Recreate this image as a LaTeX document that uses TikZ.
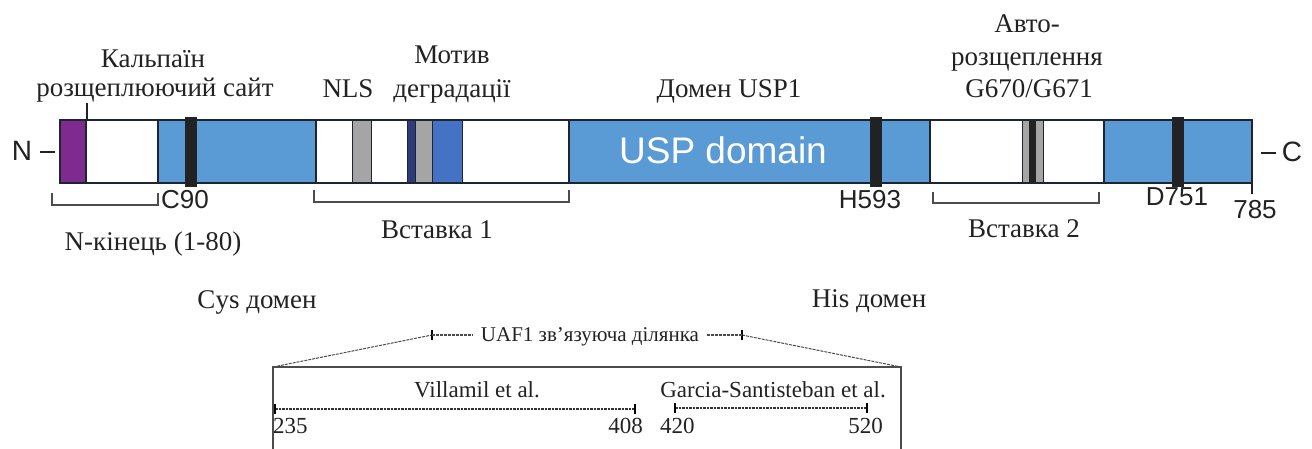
\documentclass[tikz,border=0pt]{standalone}
\usepackage{fontspec}
\setmainfont{Liberation Serif}
\setsansfont{Liberation Sans}
\definecolor{uspblue}{HTML}{5B9BD5}
\definecolor{dkblue}{HTML}{4472C4}
\definecolor{navyb}{HTML}{2E3B7A}
\definecolor{purp}{HTML}{7E2A8E}
\definecolor{bandc}{HTML}{222222}
\definecolor{grayb}{HTML}{A5A5A5}
\definecolor{outl}{HTML}{1E2530}
\definecolor{txt}{HTML}{222222}
\begin{document}
\begin{tikzpicture}[x=1pt,y=-1pt,
  seg/.style={draw=outl,line width=1.4pt},
  band/.style={draw=outl,fill=bandc,line width=1pt},
  lab/.style={font=\fontsize{27}{30}\selectfont,text=txt,inner sep=0pt,anchor=base},
  small/.style={font=\fontsize{23}{26}\selectfont,text=txt,inner sep=0pt,anchor=base},
  sans/.style={font=\sffamily\fontsize{26}{30}\selectfont,text=txt,inner sep=0pt,anchor=base},
  brk/.style={draw=black!70,line width=1.3pt},
  rng/.style={draw=black!80,line width=1.6pt,dash pattern=on 2.5pt off 1pt},
  tickm/.style={draw=black,line width=2.2pt},
  slant/.style={draw=black!70,line width=1pt,dash pattern=on 3pt off 1pt}]
\useasboundingbox (0,0) rectangle (1312,448);
% ---- bar segments
\fill[purp] (60,120) rectangle (86,183);
\fill[white] (86,120) rectangle (158,183);
\fill[uspblue] (158,120) rectangle (316,183);
\fill[white] (316,120) rectangle (569,183);
\fill[uspblue] (569,120) rectangle (930,183);
\fill[white] (930,120) rectangle (1104,183);
\fill[uspblue] (1104,120) rectangle (1252,183);
% insert 1 motifs
\fill[grayb] (352,120) rectangle (371,183);
\fill[navyb] (407,120) rectangle (415,183);
\fill[grayb] (415,120) rectangle (432,183);
\fill[dkblue] (432,120) rectangle (462,183);
\draw[seg,line width=1pt] (352,120) -- (352,183) (371,120) -- (371,183)
  (407,120) -- (407,183) (415,120) -- (415,183) (432,120) -- (432,183) (462,120) -- (462,183);
% insert 2 motifs
\fill[grayb] (1022,120) rectangle (1043,183);
\fill[bandc] (1029,120) rectangle (1036,183);
\draw[seg,line width=0.8pt] (1022,120) -- (1022,183) (1043,120) -- (1043,183);
% outlines
\draw[seg] (60,120) rectangle (1252,183);
\draw[seg] (86,120) -- (86,183) (158,120) -- (158,183) (316,120) -- (316,183)
  (569,120) -- (569,183) (930,120) -- (930,183) (1104,120) -- (1104,183);
% catalytic residues
\draw[band] (185,117) rectangle (196,186);
\draw[band] (870,117) rectangle (881,186);
\draw[band] (1172,117) rectangle (1183,186);
% ---- ends
\node[sans,font=\sffamily\fontsize{28}{30}\selectfont,anchor=center] (nterm) at (22,151) {N};
\node[sans,font=\sffamily\fontsize{28}{30}\selectfont,anchor=center] (cterm) at (1292,152) {C};
\draw[line width=1.6pt,txt] (nterm.east) ++(8,1) -- ++(15,0);
\draw[line width=1.6pt,txt] (cterm.west) ++(-6,1) -- ++(-15,0);
% calpain tick
\coordinate (calp) at (87,103);
\draw[line width=1.5pt,txt] (calp) -- (87,120);
% 785 tick
\draw[line width=1.5pt,txt] (1252,183) -- (1252,194);
% ---- top labels
\node[lab] (calp1) at (153,67) {Кальпаїн};
\node[lab] (calp2) at (155,96) {розщеплюючий сайт};
\node[lab] (nls) at (348,97) {NLS};
\node[lab] (deg1) at (452,63) {Мотив};
\node[lab] (deg2) at (452,97) {деградації};
\node[lab] (usp1) at (729,97) {Домен USP1};
\node[lab] (auto1) at (1027,32) {Авто-};
\node[lab] (auto2) at (1027,65) {розщеплення};
\node[lab] (auto3) at (1029,97) {G670/G671};
\node[sans,font=\sffamily\fontsize{37}{40}\selectfont,text=white] (uspd) at (723,163) {USP domain};
% ---- residue labels
\node[sans,anchor=base west] (c90) at (161,208) {C90};
\node[sans] (h593) at (870,208) {H593};
\node[sans] (d751) at (1177,205) {D751};
\node[sans] (n785) at (1255,218) {785};
% ---- brackets
\draw[brk] (52,193) -- (52,205) -- (158,205) -- (158,193);
\draw[brk] (314,190) -- (314,202) -- (569,202) -- (569,190);
\draw[brk] (933,192) -- (933,203) -- (1099,203) -- (1099,192);
\node[lab] (nterml) at (153,250) {N-кінець (1-80)};
\node[lab] (ins1) at (437,238) {Вставка 1};
\node[lab] (ins2) at (1024,237) {Вставка 2};
\node[lab] (cys) at (257,308) {Cys домен};
\node[lab] (his) at (869,307) {His домен};
% ---- UAF1 binding region
\coordinate (boxl) at (273,367);
\coordinate (boxr) at (901,367);
\coordinate (ul) at (432,335);
\coordinate (ur) at (742,335);
\node[small,font=\fontsize{21}{24}\selectfont] (uaf) at (590,341) {UAF1 зв’язуюча ділянка};
\draw[slant] (boxl) -- (ul);
\draw[slant] (ur) -- (boxr);
\draw[tickm] (432,330) -- (432,340);
\draw[tickm] (742,330) -- (742,340);
\draw[slant,line width=1.2pt] (ul) -- ([xshift=-8pt]uaf.west |- ul);
\draw[slant,line width=1.2pt] (ur) -- ([xshift=8pt]uaf.east |- ur);
\draw[draw=black!70,line width=2.2pt] (273,460) -- (boxl) -- (boxr) -- (901,460);
\node[small] (vill) at (477,397) {Villamil et al.};
\node[small] (garc) at (773,397) {Garcia-Santisteban et al.};
\coordinate (v1) at (275,409);
\coordinate (v2) at (635,409);
\coordinate (g1) at (675,408);
\coordinate (g2) at (867,408);
\draw[rng] (v1) -- (v2);
\draw[rng] (g1) -- (g2);
\draw[tickm,line width=1.8pt] (275,404) -- (275,414) (635,404) -- (635,414);
\draw[tickm,line width=1.8pt] (675,403) -- (675,413) (867,403) -- (867,413);
\node[small,anchor=base west] (n235) at (273,433) {235};
\node[small,anchor=base east] (n408) at (643,433) {408};
\node[small,anchor=base west] (n420) at (660,433) {420};
\node[small,anchor=base east] (n520) at (883,433) {520};
\end{tikzpicture}
\end{document}
